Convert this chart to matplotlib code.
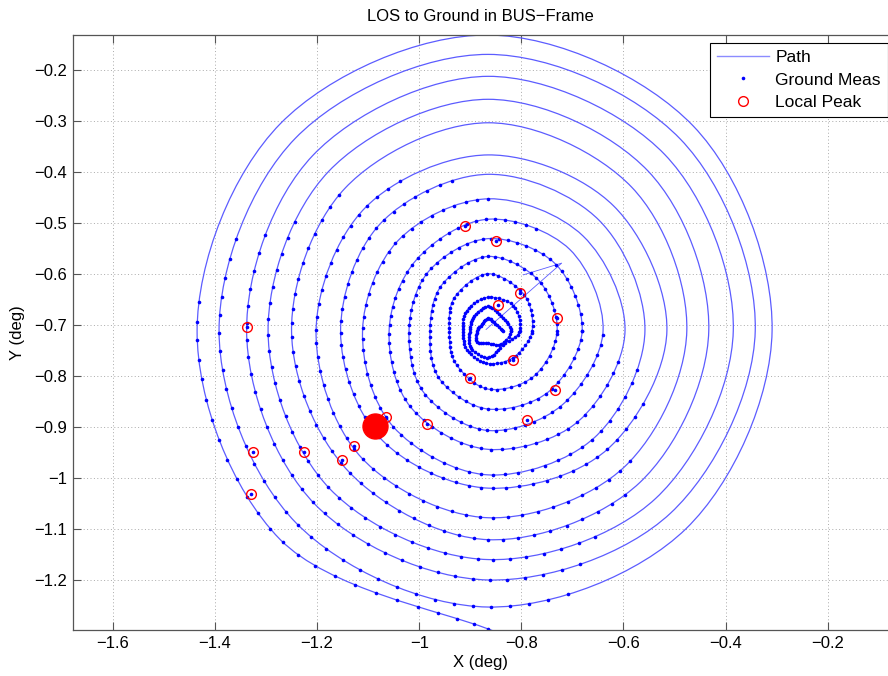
import numpy as np
import matplotlib
matplotlib.use('Agg')
import matplotlib.pyplot as plt
from matplotlib.path import Path
from matplotlib.patches import PathPatch
from matplotlib.ticker import FuncFormatter

plt.rcParams['font.family'] = ['Liberation Sans', 'DejaVu Sans']

# centre used to read the spiral (deg)
cx, cy = -0.865, -0.712
ray_deg = [0, 45, 90, 135, 180, 225, 270, 315]

# radius of each turn along the 8 rays, innermost turn first (deg)
r_e  = [0.030, 0.045, 0.062, 0.086, 0.135, 0.184, 0.225, 0.268, 0.307, 0.350, 0.389, 0.432, 0.480, 0.523, 0.556]
r_ne = [0.020, 0.038, 0.070, 0.100, 0.140, 0.186, 0.226, 0.263, 0.307, 0.347, 0.398, 0.443, 0.489, 0.532, 0.568]
r_n  = [0.025, 0.048, 0.066, 0.112, 0.146, 0.181, 0.219, 0.259, 0.307, 0.345, 0.408, 0.454, 0.499, 0.542, 0.580]
r_nw = [0.018, 0.040, 0.058, 0.093, 0.128, 0.165, 0.198, 0.250, 0.298, 0.341, 0.396, 0.442, 0.486, 0.534, 0.575]
r_w  = [0.022, 0.036, 0.050, 0.076, 0.114, 0.155, 0.194, 0.246, 0.289, 0.337, 0.385, 0.431, 0.473, 0.527, 0.570]
r_sw = [0.030, 0.048, 0.056, 0.090, 0.134, 0.175, 0.213, 0.264, 0.298, 0.351, 0.388, 0.438, 0.480, 0.532, 0.577]
r_s  = [0.024, 0.052, 0.064, 0.114, 0.153, 0.195, 0.232, 0.282, 0.308, 0.366, 0.409, 0.448, 0.488, 0.541, 0.584]
r_se = [0.036, 0.040, 0.072, 0.126, 0.168, 0.205, 0.250, 0.295, 0.329, 0.377, 0.420, 0.464, 0.505, 0.548]
# the last turn leaves the axes through the bottom
end_x, end_y = -0.70, -1.34

# angular span (deg, CCW from east) where ground samples were taken, per turn
meas_from = [0, 0, 0, 0, 0, 0, 65, 90, 104, 120, 138, 151, 157, 160, 174]
meas_to   = [360, 360, 360, 360, 360, 360, 350, 345, 335, 320, 310, 300, 292, 288, 280]
meas_step = [9, 7, 6.5, 6.5, 6, 5.5, 5.3, 5.2, 4.8, 4.6, 4.4, 4.3, 4.2, 4.1, 4.0]

# straight jump of the path out of the centre
jump_x = [-0.869, -0.721, -0.796]
jump_y = [-0.709, -0.579, -0.602]

# local peaks (these are ground samples too)
peak_x = [-0.911, -0.849, -0.803, -0.846, -0.730, -0.817, -0.901, -0.734, -0.789,
          -0.984, -1.065, -1.127, -1.151, -1.225, -1.326, -1.338, -1.330]
peak_y = [-0.506, -0.536, -0.638, -0.661, -0.686, -0.768, -0.805, -0.828, -0.886,
          -0.894, -0.880, -0.937, -0.965, -0.949, -0.950, -0.705, -1.032]
best_x, best_y = -1.087, -0.898

path_col = '#5c5cff'

ang = np.deg2rad(ray_deg)
cols = [r_e, r_ne, r_n, r_nw, r_w, r_sw, r_s, r_se]
verts = []
for k in range(len(r_e)):
    for j, a in enumerate(ang):
        if k < len(cols[j]):
            r = cols[j][k]
            verts.append([cx + r * np.cos(a), cy + r * np.sin(a)])
verts.append([end_x, end_y])
verts = np.array(verts)
n = len(verts)


def spline_at(u):
    i = int(np.floor(u))
    i = min(max(i, 0), n - 2)
    t = u - i
    p0 = verts[max(i - 1, 0)]
    p1 = verts[i]
    p2 = verts[i + 1]
    p3 = verts[min(i + 2, n - 1)]
    return 0.5 * ((2 * p1) + (-p0 + p2) * t + (2 * p0 - 5 * p1 + 4 * p2 - p3) * t ** 2
                  + (-p0 + 3 * p1 - 3 * p2 + p3) * t ** 3)


# catmull-rom through the read vertices, drawn as bezier curves
codes = [Path.MOVETO]
pts = [verts[0]]
for i in range(n - 1):
    p0 = verts[max(i - 1, 0)]
    p1 = verts[i]
    p2 = verts[i + 1]
    p3 = verts[min(i + 2, n - 1)]
    pts += [p1 + (p2 - p0) / 6, p2 - (p3 - p1) / 6, p2]
    codes += [Path.CURVE4] * 3
spiral = Path(np.array(pts), codes)

meas = []
for k in range(len(meas_from)):
    a = meas_from[k]
    while a <= meas_to[k]:
        u = 8 * k + a / 45.0
        if u <= n - 2:
            meas.append(spline_at(u))
        a += meas_step[k]
meas = np.array(meas)

fig = plt.figure(figsize=(8.88, 6.76), dpi=100)
ax = fig.add_axes([73 / 888, 46 / 676, 815 / 888, 595 / 676])

ax.add_patch(PathPatch(spiral, fill=False, edgecolor=path_col, lw=0.9))
ax.plot(jump_x, jump_y, color=path_col, lw=0.6)
ax.plot([], [], color='#8c8cff', lw=1.0, label='Path')
ax.plot(meas[:, 0], meas[:, 1], 'o', color='b', ms=2.6, mec='none', label='Ground Meas')
ax.plot(peak_x, peak_y, 'o', color='b', ms=2.6, mec='none')
ax.plot(peak_x, peak_y, 'o', mfc='none', mec='r', ms=7, mew=1.0, label='Local Peak')
ax.plot([best_x], [best_y], 'o', color='r', ms=18, mec='r')

ax.set_xlim(-1.678, -0.082)
ax.set_ylim(-1.298, -0.132)
ax.set_xticks(np.arange(-1.6, -0.19, 0.2))
ax.set_yticks(np.arange(-1.2, -0.19, 0.1))
fmt = FuncFormatter(lambda v, p: ('%g' % round(v, 2)).replace('-', '\u2212'))
ax.xaxis.set_major_formatter(fmt)
ax.yaxis.set_major_formatter(fmt)
ax.tick_params(direction='in', length=6, top=True, right=False, labelsize=12,
               color='#555555', width=0.8, pad=4)
ax.grid(True, color='#aaaaaa', linestyle=(0, (1, 2.5)), lw=0.7)
ax.set_axisbelow(True)
for s in ['left', 'bottom', 'top']:
    ax.spines[s].set_color('#555555')
    ax.spines[s].set_linewidth(0.9)
ax.spines['right'].set_visible(False)

ax.set_title('LOS to Ground in BUS\u2212Frame', fontsize=12, pad=10)
ax.set_xlabel('X (deg)', fontsize=12, labelpad=3)
ax.set_ylabel('Y (deg)', fontsize=12, labelpad=7)

leg = ax.legend(loc='upper left', bbox_to_anchor=(0.7816, 0.9866), borderaxespad=0,
                fancybox=False, edgecolor='black', framealpha=1, fontsize=12.5,
                handlelength=3.0, handletextpad=0.36, labelspacing=0.42,
                borderpad=0.4)
leg.get_frame().set_linewidth(0.8)

fig.savefig('out.png', dpi=100)
